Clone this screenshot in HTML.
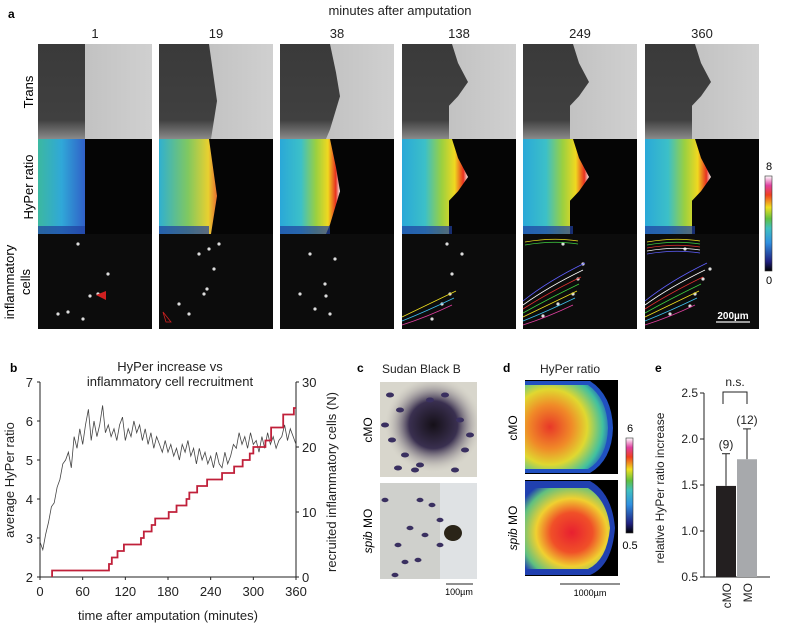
<!DOCTYPE html>
<html><head><meta charset="utf-8">
<style>
html,body{margin:0;padding:0;background:#fff;}
svg{display:block;font-family:"Liberation Sans",sans-serif;}
</style></head>
<body>
<svg id="fig" width="800" height="629" viewBox="0 0 800 629" xmlns="http://www.w3.org/2000/svg">
<defs>
  <linearGradient id="hyperGrad" x1="0" x2="1" y1="0" y2="0">
    <stop offset="0" stop-color="#2aa8d8"/><stop offset="0.35" stop-color="#3cc0c8"/>
    <stop offset="0.6" stop-color="#9ad040"/><stop offset="0.8" stop-color="#f0d820"/>
    <stop offset="0.93" stop-color="#e83020"/><stop offset="1" stop-color="#f0f0f0"/>
  </linearGradient>
  <linearGradient id="hyperGrad1" x1="0" x2="1" y1="0" y2="0">
    <stop offset="0" stop-color="#3cb8a0"/><stop offset="0.5" stop-color="#30a8d8"/>
    <stop offset="1" stop-color="#3060c8"/>
  </linearGradient>
  <linearGradient id="hyperGrad2" x1="0" x2="1" y1="0" y2="0">
    <stop offset="0" stop-color="#30b0d0"/><stop offset="0.5" stop-color="#80c860"/>
    <stop offset="0.85" stop-color="#e8d030"/><stop offset="1" stop-color="#e87030"/>
  </linearGradient>
  <linearGradient id="cbar8" x1="0" x2="0" y1="1" y2="0">
    <stop offset="0" stop-color="#000"/><stop offset="0.1" stop-color="#202080"/>
    <stop offset="0.3" stop-color="#3090e0"/><stop offset="0.45" stop-color="#40c0c0"/>
    <stop offset="0.55" stop-color="#60c040"/><stop offset="0.67" stop-color="#f0e020"/>
    <stop offset="0.8" stop-color="#f04020"/><stop offset="0.9" stop-color="#e040a0"/>
    <stop offset="1" stop-color="#fff"/>
  </linearGradient>
  <linearGradient id="lightGrad" x1="0" x2="1"><stop offset="0" stop-color="#b8b8b8"/><stop offset="1" stop-color="#d0d0d0"/></linearGradient>
  <linearGradient id="darkGrad" x1="0" x2="0" y1="0" y2="1"><stop offset="0" stop-color="#3a3a3a"/><stop offset="0.8" stop-color="#404040"/><stop offset="1" stop-color="#8a8a8a"/></linearGradient>
  <radialGradient id="dCmo" cx="0.3" cy="0.5" r="0.75">
    <stop offset="0" stop-color="#e83828"/><stop offset="0.35" stop-color="#f08a28"/>
    <stop offset="0.6" stop-color="#e0d830"/><stop offset="0.85" stop-color="#40c0a0"/><stop offset="1" stop-color="#2050c0"/>
  </radialGradient>
  <radialGradient id="dSpib" cx="0.55" cy="0.55" r="0.7">
    <stop offset="0" stop-color="#e82030"/><stop offset="0.35" stop-color="#f05028"/>
    <stop offset="0.6" stop-color="#f0d030"/><stop offset="0.85" stop-color="#60c080"/><stop offset="1" stop-color="#2040b0"/>
  </radialGradient>
  <radialGradient id="cDark" cx="0.55" cy="0.45" r="0.5">
    <stop offset="0" stop-color="#151018"/><stop offset="0.5" stop-color="#3a3050"/><stop offset="1" stop-color="#c8c4b8" stop-opacity="0"/>
  </radialGradient>
</defs>

<text x="8" y="18" font-size="12" font-weight="bold">a</text>
<text x="400" y="15" font-size="13" text-anchor="middle" fill="#222">minutes after amputation</text>
<g id="panelA"></g>
<text transform="translate(33,92) rotate(-90)" font-size="13" text-anchor="middle">Trans</text>
<text transform="translate(33,187) rotate(-90)" font-size="13" text-anchor="middle">HyPer ratio</text>
<text transform="translate(14,282) rotate(-90)" font-size="13" text-anchor="middle">inflammatory</text>
<text transform="translate(30,282) rotate(-90)" font-size="13" text-anchor="middle">cells</text>
<rect x="765" y="176" width="7" height="95" fill="url(#cbar8)" stroke="#333" stroke-width="0.6"/>
<text x="769" y="170" font-size="11" text-anchor="middle">8</text>
<text x="769" y="284" font-size="11" text-anchor="middle">0</text>

<text x="10" y="372" font-size="12" font-weight="bold">b</text>
<text x="170" y="371" font-size="13" text-anchor="middle" fill="#222">HyPer increase vs</text>
<text x="170" y="386" font-size="13" text-anchor="middle" fill="#222">inflammatory cell recruitment</text>
<g id="panelB"></g>
<text transform="translate(14,480) rotate(-90)" font-size="13" text-anchor="middle" fill="#222">average HyPer ratio</text>
<text transform="translate(336,482) rotate(-90)" font-size="13" text-anchor="middle" fill="#222">recruited inflammatory cells (N)</text>
<text x="168" y="620" font-size="13" text-anchor="middle" fill="#222">time after amputation (minutes)</text>

<text x="357" y="372" font-size="12" font-weight="bold">c</text>
<text x="382" y="373" font-size="12" fill="#222">Sudan Black B</text>
<rect x="380" y="382" width="97" height="95" fill="#d8d6cc"/>
<rect x="380" y="382" width="97" height="95" fill="url(#cDark)"/>
<g id="cDots1"></g>
<rect x="380" y="483" width="97" height="96" fill="#cfd0cc"/>
<rect x="440" y="483" width="37" height="96" fill="#dfe2e4"/>
<ellipse cx="453" cy="533" rx="9" ry="8" fill="#2a2418"/>
<g id="cDots2"></g>
<text transform="translate(372,430) rotate(-90)" font-size="12" text-anchor="middle">cMO</text>
<text transform="translate(372,531) rotate(-90)" font-size="12" text-anchor="middle"><tspan font-style="italic">spib</tspan> MO</text>
<line x1="446" y1="584" x2="473" y2="584" stroke="#222" stroke-width="1"/>
<text x="459" y="595" font-size="9" text-anchor="middle">100µm</text>

<text x="503" y="372" font-size="12" font-weight="bold">d</text>
<text x="570" y="373" font-size="12" text-anchor="middle" fill="#222">HyPer ratio</text>
<rect x="525" y="380" width="93" height="94" fill="#000"/>
<path d="M525,381 L590,381 Q612,395 613,428 Q612,460 590,473 L525,473 Z" fill="#2050c0"/>
<path d="M525,385 L588,385 Q607,398 608,428 Q607,458 588,469 L525,469 Z" fill="url(#dCmo)"/>
<rect x="525" y="480" width="93" height="96" fill="#000"/>
<path d="M525,481 L590,481 Q612,493 615,528 Q612,566 590,575 L525,575 Z" fill="#2040b0"/>
<path d="M525,488 L588,488 Q607,500 610,528 Q607,560 588,569 L525,569 Z" fill="url(#dSpib)"/>
<text transform="translate(517,428) rotate(-90)" font-size="12" text-anchor="middle">cMO</text>
<text transform="translate(517,528) rotate(-90)" font-size="12" text-anchor="middle"><tspan font-style="italic">spib</tspan> MO</text>
<rect x="626" y="438" width="7" height="95" fill="url(#cbar8)" stroke="#333" stroke-width="0.6"/>
<text x="630" y="432" font-size="11" text-anchor="middle">6</text>
<text x="630" y="549" font-size="11" text-anchor="middle">0.5</text>
<line x1="560" y1="584" x2="620" y2="584" stroke="#222" stroke-width="1"/>
<text x="590" y="596" font-size="9" text-anchor="middle">1000µm</text>

<text x="655" y="372" font-size="12" font-weight="bold">e</text>
<g id="panelE"></g>
<text transform="translate(664,488) rotate(-90)" font-size="12" text-anchor="middle" fill="#222">relative HyPer ratio increase</text>
<g id="scaleA"></g>
</svg>

<script>
const NS='http://www.w3.org/2000/svg';
function mk(parent,tag,attrs,text){const e=document.createElementNS(NS,tag);for(const k in attrs)e.setAttribute(k,attrs[k]);if(text!==undefined)e.textContent=text;parent.appendChild(e);return e;}

const colTimes=['1','19','38','138','249','360'];
const hyperTimes=[0,4,8,12,16,20,24,28,32,36,40,44,48,52,56,60,64,68,72,76,80,84,88,92,96,100,104,108,112,116,120,124,128,132,136,140,144,148,152,156,160,164,168,172,176,180,184,188,192,196,200,204,208,212,216,220,224,228,232,236,240,244,248,252,256,260,264,268,272,276,280,284,288,292,296,300,304,308,312,316,320,324,328,332,336,340,344,348,352,356,360];
const hyperValues=[2.9,2.7,3.1,3.4,3.8,3.9,4.3,4.5,4.9,5.0,5.2,4.8,5.6,5.3,5.8,5.4,5.9,6.3,5.5,6.0,5.6,5.9,6.4,5.7,5.9,5.6,5.8,5.5,5.9,6.1,5.5,5.8,5.6,6.0,5.7,5.9,5.5,5.8,5.4,5.7,5.3,5.6,5.4,5.2,5.5,5.2,5.4,5.1,5.3,5.0,5.4,5.2,5.5,5.1,5.3,4.9,5.3,5.0,5.2,4.9,5.1,4.8,5.2,4.9,4.8,5.2,4.9,5.1,5.4,5.3,5.7,5.4,5.6,5.3,5.7,5.4,5.5,5.2,5.6,5.3,5.7,5.4,5.6,5.3,5.5,5.6,5.9,5.5,5.8,5.6,5.4];
const stepTimes=[17,97,101,109,118,142,146,157,162,181,192,206,210,221,235,256,273,285,295,300,317,325,342,357,360];
const stepCounts=[1,2,3,4,5,6,7,8,9,10,11,12,13,14,15,16,17,18,19,20,21,23,25,26,26];
const xTicks=[0,60,120,180,240,300,360];
const yLeftTicks=[2,3,4,5,6,7];
const yRightTicks=[0,10,20,30];
const groups=['cMO','MO'];
const means=[1.49,1.78];
const errTops=[1.84,2.11];
const nLabels=['(9)','(12)'];
const eTicks=['0.5','1.0','1.5','2.0','2.5'];

(function(){
const A=document.getElementById('panelA');
const colX=[38,159,280,402,523,645], W=114;
const rowY=[44,139,234], H=95;
function boundary(c,y0){
  const x=colX[c];
  let pts;
  if(c===0) pts=[[47,0],[47,1]];
  else if(c===1) pts=[[50,0],[54,0.3],[58,0.6],[52,1]];
  else if(c===2) pts=[[50,0],[56,0.3],[60,0.55],[50,0.9],[46,1]];
  else pts=[[50,0],[56,0.2],[66,0.4],[56,0.55],[47,0.65],[47,1]];
  let d='M'+x+','+y0;
  pts.forEach(p=>{d+=' L'+(x+p[0])+','+(y0+p[1]*H);});
  d+=' L'+x+','+(y0+H)+' Z';
  return d;
}
const dotSets=[[[40,10],[60,60],[52,62],[20,80],[30,78],[70,40],[45,85]],
 [[20,70],[40,20],[50,15],[55,35],[45,60],[30,80],[48,55],[60,10]],
 [[30,20],[45,50],[46,62],[35,75],[50,80],[20,60],[55,25]],
 [[45,10],[50,40],[48,60],[40,70],[30,85],[60,20]],
 [[40,10],[55,45],[50,60],[20,82],[35,70],[60,30]],
 [[40,15],[58,45],[50,60],[25,80],[45,72],[65,35]]];
for(let c=0;c<6;c++){
  const g=mk(A,'g',{});
  
  
  const lbl=mk(g,'text',{x:colX[c]+W/2,y:38,'font-size':13,'text-anchor':'middle',fill:'#222'},colTimes[c]);
  
  
  const t=mk(g,'rect',{x:colX[c],y:rowY[0],width:W,height:H,fill:'url(#lightGrad)'});
  
  
  mk(g,'path',{d:boundary(c,rowY[0]),fill:'url(#darkGrad)'});
  const h=mk(g,'rect',{x:colX[c],y:rowY[1],width:W,height:H,fill:'#050505'});
  
  
  const grad=c===0?'url(#hyperGrad1)':(c===1?'url(#hyperGrad2)':'url(#hyperGrad)');
  mk(g,'path',{d:boundary(c,rowY[1]),fill:grad});
  mk(g,'rect',{x:colX[c],y:rowY[1]+H-8,width:c===0?47:50,height:8,fill:'#2040a0',opacity:0.7});
  const f=mk(g,'rect',{x:colX[c],y:rowY[2],width:W,height:H,fill:'#0c0c0c'});
  
  
  dotSets[c].forEach(p=>mk(g,'circle',{cx:colX[c]+p[0],cy:rowY[2]+p[1],r:1.6,fill:'#ddd'}));
  if(c>=3){
    const cols=['#e040a0','#40c0f0','#f0e020','#40d040','#e03030','#fff','#6060ff'];
    const n=c===3?3:7;
    for(let i=0;i<n;i++){
      const y=rowY[2]+H-4-i*4;
      mk(g,'path',{d:'M'+colX[c]+' '+y+' Q'+(colX[c]+25)+' '+(y-8-i*2)+' '+(colX[c]+50+i*2)+' '+(y-20-i*3),stroke:cols[i%7],fill:'none','stroke-width':0.8});
    }
    if(c>=4) for(let i=0;i<(c===5?5:2);i++){
      const y=rowY[2]+6+i*3;
      mk(g,'path',{d:'M'+(colX[c]+2)+' '+(y+2)+' Q'+(colX[c]+30)+' '+(y-3)+' '+(colX[c]+55)+' '+(y+1),stroke:cols[(i+2)%7],fill:'none','stroke-width':0.8});
    }
  }
}
mk(A,'path',{d:'M96,295 L106,291 L106,300 Z',fill:'#d02020'});
mk(A,'path',{d:'M163,312 L171,322 L166,322 Z',fill:'none',stroke:'#d02020','stroke-width':0.8});
const S=document.getElementById('scaleA');
const sb=mk(S,'line',{x1:716,y1:322,x2:750,y2:322,stroke:'#ccc','stroke-width':1.5});


const st=mk(S,'text',{x:733,y:319,'font-size':10,'font-weight':'bold',fill:'#fff','text-anchor':'middle'},'200µm');


})();

(function(){
  const B=document.getElementById('panelB');
  const x0=40,x1=296,yb=577,yt=382;
  const xs=t=>x0+(t/360)*(x1-x0);
  const yl=v=>yb-(v-2)/5*(yb-yt);
  const yr=v=>yb-v/30*(yb-yt);
  mk(B,'line',{x1:x0,y1:yt,x2:x0,y2:yb,stroke:'#222'});
  mk(B,'line',{x1:x0,y1:yb,x2:x1,y2:yb,stroke:'#222'});
  mk(B,'line',{x1:x1,y1:yt,x2:x1,y2:yb,stroke:'#222'});
  xTicks.forEach(t=>{mk(B,'line',{x1:xs(t),y1:yb,x2:xs(t),y2:yb+3,stroke:'#222'});
    const l=mk(B,'text',{x:xs(t),y:yb+19,'font-size':13,'text-anchor':'middle',fill:'#222'},t);
    
    });
  yLeftTicks.forEach(v=>{mk(B,'line',{x1:x0-3,y1:yl(v),x2:x0,y2:yl(v),stroke:'#222'});
    const l=mk(B,'text',{x:x0-7,y:yl(v)+5,'font-size':13,'text-anchor':'end',fill:'#222'},v);
    
    });
  yRightTicks.forEach(v=>{mk(B,'line',{x1:x1,y1:yr(v),x2:x1+3,y2:yr(v),stroke:'#222'});
    const l=mk(B,'text',{x:x1+6,y:yr(v)+5,'font-size':13,fill:'#222'},v);
    
    });
  let d='';
  hyperTimes.forEach((t,i)=>{d+=(i?'L':'M')+xs(t).toFixed(1)+','+yl(hyperValues[i]).toFixed(1);});
  const hl=mk(B,'path',{d:d,fill:'none',stroke:'#444','stroke-width':0.8});
  
  
  let s='M'+xs(stepTimes[0])+','+yr(0)+' L'+xs(stepTimes[0])+','+yr(stepCounts[0]);
  for(let i=1;i<stepTimes.length;i++){s+=' L'+xs(stepTimes[i])+','+yr(stepCounts[i-1])+' L'+xs(stepTimes[i])+','+yr(stepCounts[i]);}
  const sl=mk(B,'path',{d:s,fill:'none',stroke:'#c0203a','stroke-width':1.8});
  
  
})();

(function(){
  const g1=document.getElementById('cDots1'),g2=document.getElementById('cDots2');
  const p1=[[390,395],[400,410],[392,440],[405,455],[415,470],[398,468],[430,400],[460,420],[465,450],[420,465],[385,425],[470,435],[445,395],[455,470]];
  p1.forEach(p=>mk(g1,'ellipse',{cx:p[0],cy:p[1],rx:4,ry:2.5,fill:'#3a3060'}));
  const p2=[[420,500],[432,505],[410,528],[425,535],[398,545],[405,562],[395,575],[418,560],[440,520],[385,500],[440,545]];
  p2.forEach(p=>mk(g2,'ellipse',{cx:p[0],cy:p[1],rx:3.5,ry:2.2,fill:'#3a3060'}));
})();

(function(){
  const E=document.getElementById('panelE');
  const ax=704,yb=577,yt=393;
  const ys=v=>yb-(v-0.5)/2*(yb-yt);
  const barX=[716,737],bw=20,fills=['#231f20','#a7a9ac'];
  mk(E,'line',{x1:ax,y1:yt,x2:ax,y2:yb,stroke:'#222'});
  mk(E,'line',{x1:ax,y1:yb,x2:770,y2:yb,stroke:'#222'});
  eTicks.forEach(t=>{const v=parseFloat(t);mk(E,'line',{x1:ax-4,y1:ys(v),x2:ax,y2:ys(v),stroke:'#222'});
    const l=mk(E,'text',{x:ax-6,y:ys(v)+4,'font-size':12,'text-anchor':'end',fill:'#222'},t);
    
    });
  groups.forEach((g,i)=>{
    const cx=barX[i]+bw/2;
    mk(E,'line',{x1:cx,y1:ys(errTops[i]),x2:cx,y2:ys(means[i]),stroke:'#222'});
    mk(E,'line',{x1:cx-4,y1:ys(errTops[i]),x2:cx+4,y2:ys(errTops[i]),stroke:'#222'});
    const r=mk(E,'rect',{x:barX[i],y:ys(means[i]),width:bw,height:yb-ys(means[i]),fill:fills[i]});
    
    
    const n=mk(E,'text',{x:cx,y:ys(errTops[i])-5,'font-size':12,'text-anchor':'middle',fill:'#222'},nLabels[i]);
    
    
    const l=mk(E,'text',{transform:'translate('+(cx+5)+','+(yb+6)+') rotate(-90)','font-size':12,'text-anchor':'end',fill:'#222'},g);
    
    
  });
  const br=mk(E,'path',{d:'M723,404 L723,392 L747,392 L747,404',fill:'none',stroke:'#222'});
  
  
  const ns=mk(E,'text',{x:735,y:386,'font-size':12,'text-anchor':'middle',fill:'#222'},'n.s.');
  
  
})();
</script>
</body></html>
